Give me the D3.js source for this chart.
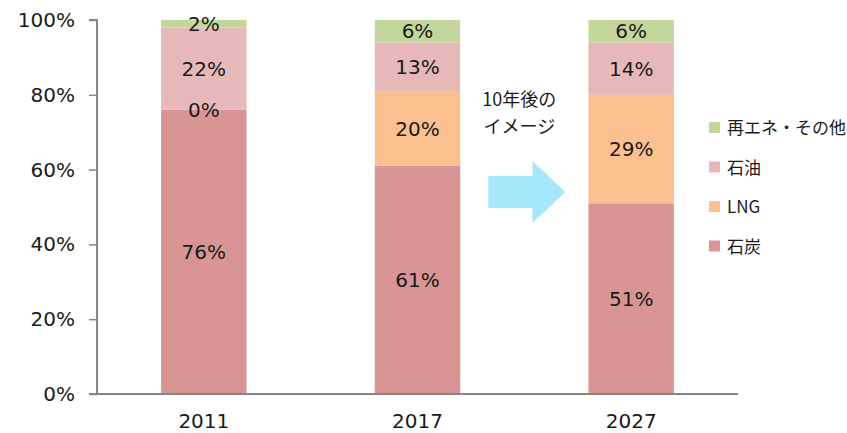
<!DOCTYPE html>
<html><head><meta charset="utf-8">
<script src="https://cdn.jsdelivr.net/npm/d3@7"></script>
<style>body{margin:0;background:#fff}svg{display:block}</style>
</head><body>
<svg id="c" width="847" height="433"></svg>
<script>
const categories = ["2011", "2017", "2027"];
const seriesNames = ["石炭", "LNG", "石油", "再エネ・その他"];
const coal = [76, 61, 51];
const lng = [0, 20, 29];
const oil = [22, 13, 14];
const renew = [2, 6, 6];
const yTicks = [0, 20, 40, 60, 80, 100];
const colors = ["#D99594", "#FAC090", "#E6B9B8", "#C3D69B"];
const noteLines = ["10年後の", "イメージ"];

(function () {
const values = [coal, lng, oil, renew];
const rows = categories.map((c, i) => {
  const r = {cat: c};
  seriesNames.forEach((s, j) => r[s] = values[j][i]);
  return r;
});
const stacked = d3.stack().keys(seriesNames)(rows);

const svg = d3.select("#c");
const pl = 97, pr = 738, pt = 20, pb = 394;
const font = "'DejaVu Sans', Verdana, sans-serif";
const jfont = "'Noto Sans CJK JP', sans-serif";
const fs = 20;

const x = d3.scaleBand().domain(categories).range([pl, pr]).paddingInner(0.6).paddingOuter(0.3);
const y = d3.scaleLinear().domain([0, 100]).range([pb, pt]);

const g = svg.append("g");
stacked.forEach((layer, j) => {
  g.selectAll(null).data(layer).enter().append("rect")
    .attr("x", d => x(d.data.cat))
    .attr("width", x.bandwidth())
    .attr("y", d => y(d[1]))
    .attr("height", d => y(d[0]) - y(d[1]))
    .attr("fill", colors[j]);
});
stacked.forEach((layer, j) => {
  g.selectAll(null).data(layer).enter().append("text")
    .attr("x", d => x(d.data.cat) + x.bandwidth() / 2)
    .attr("y", d => y((d[0] + d[1]) / 2))
    .attr("dy", "0.36em")
    .attr("text-anchor", "middle")
    .attr("font-family", font).attr("font-size", fs).attr("fill", "#1a1a1a")
    .text(d => (d[1] - d[0]) + "%");
});

// y axis
const ya = svg.append("g").attr("transform", `translate(${pl},0)`)
  .call(d3.axisLeft(y).tickValues(yTicks).tickFormat(d => d + "%").tickSize(8).tickPadding(14));
ya.select(".domain").attr("stroke", "#868686").attr("stroke-width", 2).attr("d", `M-8,${pt}H0V${pb}H-8`);
ya.selectAll(".tick line").attr("stroke", "#868686").attr("stroke-width", 1.5);
ya.selectAll(".tick text").attr("font-family", font).attr("font-size", fs).attr("fill", "#1a1a1a");

// x axis
const xa = svg.append("g").attr("transform", `translate(0,${pb})`)
  .call(d3.axisBottom(x).tickSize(0).tickPadding(20));
xa.select(".domain").attr("stroke", "#868686").attr("stroke-width", 2).attr("d", `M${pl},0H${pr}`);
xa.selectAll(".tick text").attr("font-family", font).attr("font-size", fs).attr("fill", "#1a1a1a");

// arrow annotation between 2017 and 2027
const ax0 = x("2017") + x.bandwidth() + 28;
const ax1 = x("2027") - 23;
const axh = ax1 - 33;
const aym = y(54);
const arrow = [[ax0, aym - 16], [axh, aym - 16], [axh, aym - 31], [ax1, aym], [axh, aym + 31], [axh, aym + 16], [ax0, aym + 16]];
svg.append("path").attr("d", d3.line()(arrow) + "Z").attr("fill", "#A7E7FB");
const cx = (x("2017") + x.bandwidth() + x("2027")) / 2;
noteLines.forEach((t, i) => {
  svg.append("text").attr("x", cx - 5).attr("y", 106 + i * 27)
    .attr("text-anchor", "middle").attr("font-family", jfont).attr("font-size", 18).attr("fill", "#1a1a1a").text(t);
});

// legend
const legendOrder = [3, 2, 1, 0];
legendOrder.forEach((j, i) => {
  const ly = 128 + i * 39.5;
  svg.append("rect").attr("x", 709).attr("y", ly - 6).attr("width", 11).attr("height", 11).attr("fill", colors[j]);
  svg.append("text").attr("x", 727).attr("y", ly).attr("dy", "0.36em")
    .attr("font-family", jfont).attr("font-size", 17).attr("fill", "#1a1a1a").text(seriesNames[j]);
});
})();
</script>
</body></html>
